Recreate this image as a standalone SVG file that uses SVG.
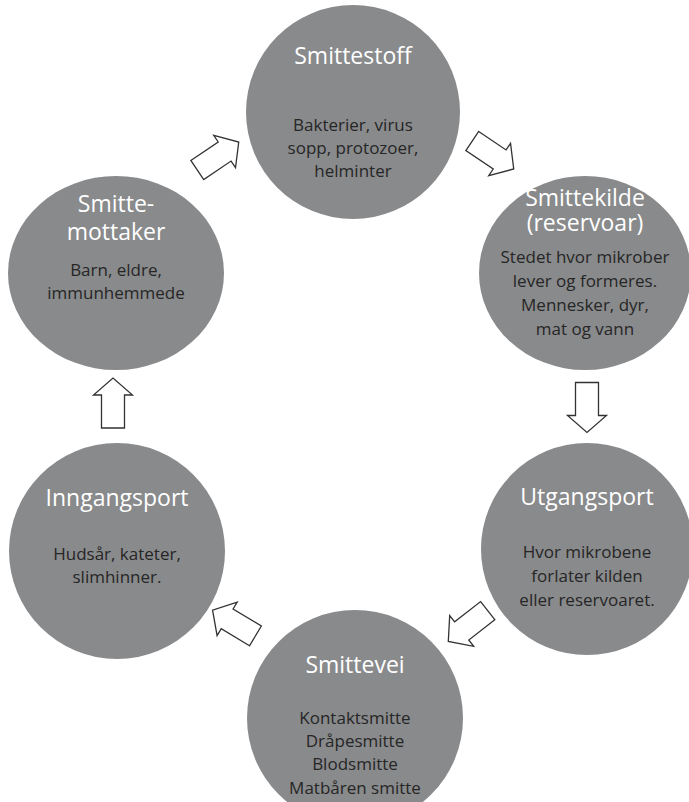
<svg xmlns="http://www.w3.org/2000/svg" xmlns:xlink="http://www.w3.org/1999/xlink" width="689" height="802" viewBox="0 0 689 802">
<style>
.c{fill:#898a8c}
.t{fill:#ffffff;font-family:"Open Sans","Liberation Sans",sans-serif;font-size:23px;text-anchor:middle}
.b{fill:#262626;font-family:"Open Sans","Liberation Sans",sans-serif;font-size:17px;text-anchor:middle}
.a{fill:#ffffff;stroke:#333333;stroke-width:1.3;stroke-linejoin:miter}
</style>
<defs>
<path id="arr" d="M-25,-11.5 H8 V-19.5 L25,0 L8,19.5 V11.5 H-25 Z"/>
</defs>
<rect width="689" height="802" fill="#ffffff"/>
<g id="smittestoff">
<circle class="c" cx="353" cy="112" r="107"/>
<text class="t" x="353" y="64">Smittestoff</text>
<text class="b" x="353" y="131">Bakterier, virus</text>
<text class="b" x="353" y="154">sopp, protozoer,</text>
<text class="b" x="353" y="177">helminter</text>
</g>
<g id="smittekilde">
<ellipse class="c" cx="585" cy="273" rx="106" ry="97"/>
<text class="t" x="585" y="206">Smittekilde</text>
<text class="t" x="585" y="231">(reservoar)</text>
<text class="b" x="585" y="263">Stedet hvor mikrober</text>
<text class="b" x="585" y="287">lever og formeres.</text>
<text class="b" x="585" y="311">Mennesker, dyr,</text>
<text class="b" x="585" y="335">mat og vann</text>
</g>
<g id="utgangsport">
<circle class="c" cx="587" cy="549" r="106"/>
<text class="t" x="587" y="505">Utgangsport</text>
<text class="b" x="587" y="558">Hvor mikrobene</text>
<text class="b" x="587" y="582">forlater kilden</text>
<text class="b" x="587" y="606">eller reservoaret.</text>
</g>
<g id="smittevei">
<circle class="c" cx="355" cy="718" r="108"/>
<text class="t" x="355" y="673">Smittevei</text>
<text class="b" x="355" y="724">Kontaktsmitte</text>
<text class="b" x="355" y="747">Dråpesmitte</text>
<text class="b" x="355" y="770">Blodsmitte</text>
<text class="b" x="355" y="794">Matbåren smitte</text>
</g>
<g id="inngangsport">
<circle class="c" cx="117" cy="551" r="108"/>
<text class="t" x="117" y="506">Inngangsport</text>
<text class="b" x="117" y="560">Hudsår, kateter,</text>
<text class="b" x="117" y="583">slimhinner.</text>
</g>
<g id="smittemottaker">
<ellipse class="c" cx="116" cy="273" rx="108" ry="97"/>
<text class="t" x="116" y="212">Smitte-</text>
<text class="t" x="116" y="240">mottaker</text>
<text class="b" x="116" y="276">Barn, eldre,</text>
<text class="b" x="116" y="299">immunhemmede</text>
</g>
<g id="connectors">
<use xlink:href="#arr" class="a" transform="translate(218,156) rotate(-34)"/>
<use xlink:href="#arr" class="a" transform="translate(493,155) rotate(34)"/>
<use xlink:href="#arr" class="a" transform="translate(587,407.5) rotate(90)"/>
<use xlink:href="#arr" class="a" transform="translate(468,626) rotate(142)"/>
<use xlink:href="#arr" class="a" transform="translate(234,623) rotate(211)"/>
<use xlink:href="#arr" class="a" transform="translate(113,403) rotate(-90)"/>
</g>
</svg>
